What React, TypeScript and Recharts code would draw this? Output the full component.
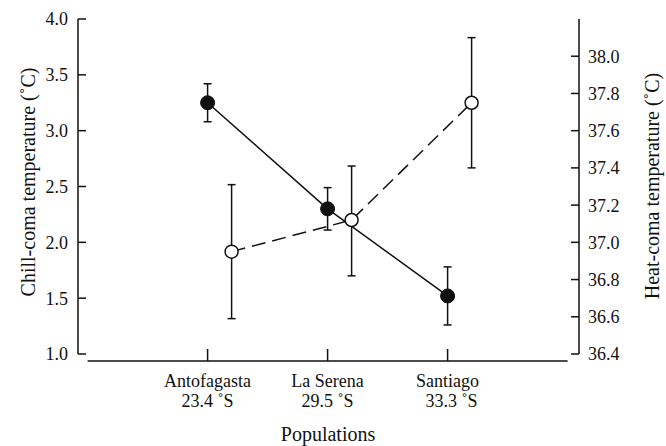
import React from 'react';
import { LineChart, Line, XAxis, YAxis, ErrorBar, ReferenceLine, Label } from 'recharts';

// populations along the x axis
const populations = ['Antofagasta', 'La Serena', 'Santiago'];
const latitudes = ['23.4 ˚S', '29.5 ˚S', '33.3 ˚S'];

// chill-coma (left axis, filled circles)
const chillMean = [3.25, 2.3, 1.52];
const chillLow = [3.08, 2.11, 1.26];
const chillHigh = [3.42, 2.49, 1.78];

// heat-coma (right axis, open circles)
const heatMean = [36.95, 37.12, 37.75];
const heatLow = [36.59, 36.82, 37.4];
const heatHigh = [37.31, 37.41, 38.1];

const chillTicks = [1.0, 1.5, 2.0, 2.5, 3.0, 3.5, 4.0];
const heatTicks = [36.4, 36.6, 36.8, 37.0, 37.2, 37.4, 37.6, 37.8, 38.0];

const FONT = '"Liberation Serif", "Times New Roman", serif';
const INK = '#111';

const chillData = populations.map((name, i) => ({
  name,
  x: i + 1,
  y: chillMean[i],
  err: [chillMean[i] - chillLow[i], chillHigh[i] - chillMean[i]],
}));

const heatData = populations.map((name, i) => ({
  name,
  x: i + 1.2,
  y: heatMean[i],
  err: [heatMean[i] - heatLow[i], heatHigh[i] - heatMean[i]],
}));

const CategoryTick = (props: any) => {
  const { x, y, payload } = props;
  const i = Math.round(payload.value) - 1;
  if (i < 0 || i >= populations.length) return null;
  return (
    <g>
      <line x1={x} x2={x} y1={y - 5} y2={y + 7} stroke={INK} strokeWidth={1.5} />
      <text x={x} y={y + 33} textAnchor="middle" fontFamily={FONT} fontSize={18} fill={INK}>
        {populations[i]}
      </text>
      <text x={x + (i === 2 ? 4 : 0)} y={y + 53} textAnchor="middle" fontFamily={FONT} fontSize={18} fill={INK}>
        {latitudes[i]}
      </text>
    </g>
  );
};

const renderValueTick = (props: any) => {
  const { x, y, payload, textAnchor } = props;
  return (
    <text
      x={x}
      y={y}
      dy="0.355em"
      textAnchor={textAnchor}
      style={{ fontFamily: FONT, fontSize: 18 }}
      fill={INK}
    >
      {Number(payload.value).toFixed(1)}
    </text>
  );
};

const OpenDot = (props: any) => {
  const { cx, cy } = props;
  return <circle cx={cx} cy={cy} r={6.5} fill="#fff" stroke={INK} strokeWidth={1.5} />;
};

const FilledDot = (props: any) => {
  const { cx, cy } = props;
  return <circle cx={cx} cy={cy} r={7} fill={INK} stroke={INK} strokeWidth={1} />;
};

export default function App() {
  return (
    <div
      style={{
        position: 'fixed',
        left: 0,
        top: 0,
        width: 666,
        height: 446,
        background: '#fff',
        fontFamily: FONT,
      }}
    >
      <LineChart
        width={666}
        height={446}
        margin={{ top: 19, right: 0, bottom: 0, left: 0 }}
        style={{ fontFamily: FONT }}
      >
        <XAxis
          dataKey="x"
          type="number"
          domain={[-0.08, 4.095]}
          ticks={[1, 2, 3]}
          interval={0}
          axisLine={false}
          tickLine={false}
          tickSize={0}
          tickMargin={0}
          height={92}
          tick={<CategoryTick />}
          allowDataOverflow
        >
          <Label
            content={() => (
              <text x={328} y={441} textAnchor="middle" fontFamily={FONT} fontSize={20} fill={INK}>
                Populations
              </text>
            )}
          />
        </XAxis>
        <YAxis
          yAxisId="left"
          type="number"
          domain={[1, 4]}
          ticks={chillTicks}
          interval={0}
          width={78}
          axisLine={{ stroke: INK, strokeWidth: 1.5 }}
          tickLine={{ stroke: INK, strokeWidth: 1.5 }}
          tickSize={-8}
          tickMargin={18}
          tick={renderValueTick}
          fontFamily={FONT}
          fontSize={18}
          allowDataOverflow
        >
          <Label
            content={() => (
              <text
                x={28}
                y={182}
                transform="rotate(-90, 28, 182)"
                textAnchor="middle"
                dominantBaseline="central"
                fontFamily={FONT}
                fontSize={20}
                fill={INK}
              >
                Chill-coma temperature (˚C)
              </text>
            )}
          />
        </YAxis>
        <YAxis
          yAxisId="right"
          orientation="right"
          type="number"
          domain={[36.4, 38.2]}
          ticks={heatTicks}
          interval={0}
          width={87}
          axisLine={{ stroke: INK, strokeWidth: 1.5 }}
          tickLine={{ stroke: INK, strokeWidth: 1.5 }}
          tickSize={-8}
          tickMargin={17}
          tick={renderValueTick}
          fontFamily={FONT}
          fontSize={18}
          allowDataOverflow
        >
          <Label
            content={() => (
              <text
                x={652}
                y={186}
                transform="rotate(-90, 652, 186)"
                textAnchor="middle"
                dominantBaseline="central"
                fontFamily={FONT}
                fontSize={20}
                fill={INK}
              >
                Heat-coma temperature (˚C)
              </text>
            )}
          />
        </YAxis>
        <ReferenceLine
          yAxisId="left"
          segment={[
            { x: 0, y: 0.937 },
            { x: 4, y: 0.937 },
          ]}
          ifOverflow="visible"
          stroke={INK}
          strokeWidth={1.5}
        />
        <Line
          yAxisId="left"
          data={chillData}
          dataKey="y"
          stroke={INK}
          strokeWidth={1.5}
          dot={<FilledDot />}
          activeDot={false}
          isAnimationActive={false}
        >
          <ErrorBar dataKey="err" direction="y" width={4} stroke={INK} strokeWidth={1.5} isAnimationActive={false} />
        </Line>
        <Line
          yAxisId="right"
          data={heatData}
          dataKey="y"
          stroke={INK}
          strokeWidth={1.5}
          strokeDasharray="14 7"
          dot={<OpenDot />}
          activeDot={false}
          isAnimationActive={false}
        >
          <ErrorBar dataKey="err" direction="y" width={4} stroke={INK} strokeWidth={1.5} isAnimationActive={false} />
        </Line>
      </LineChart>
    </div>
  );
}
